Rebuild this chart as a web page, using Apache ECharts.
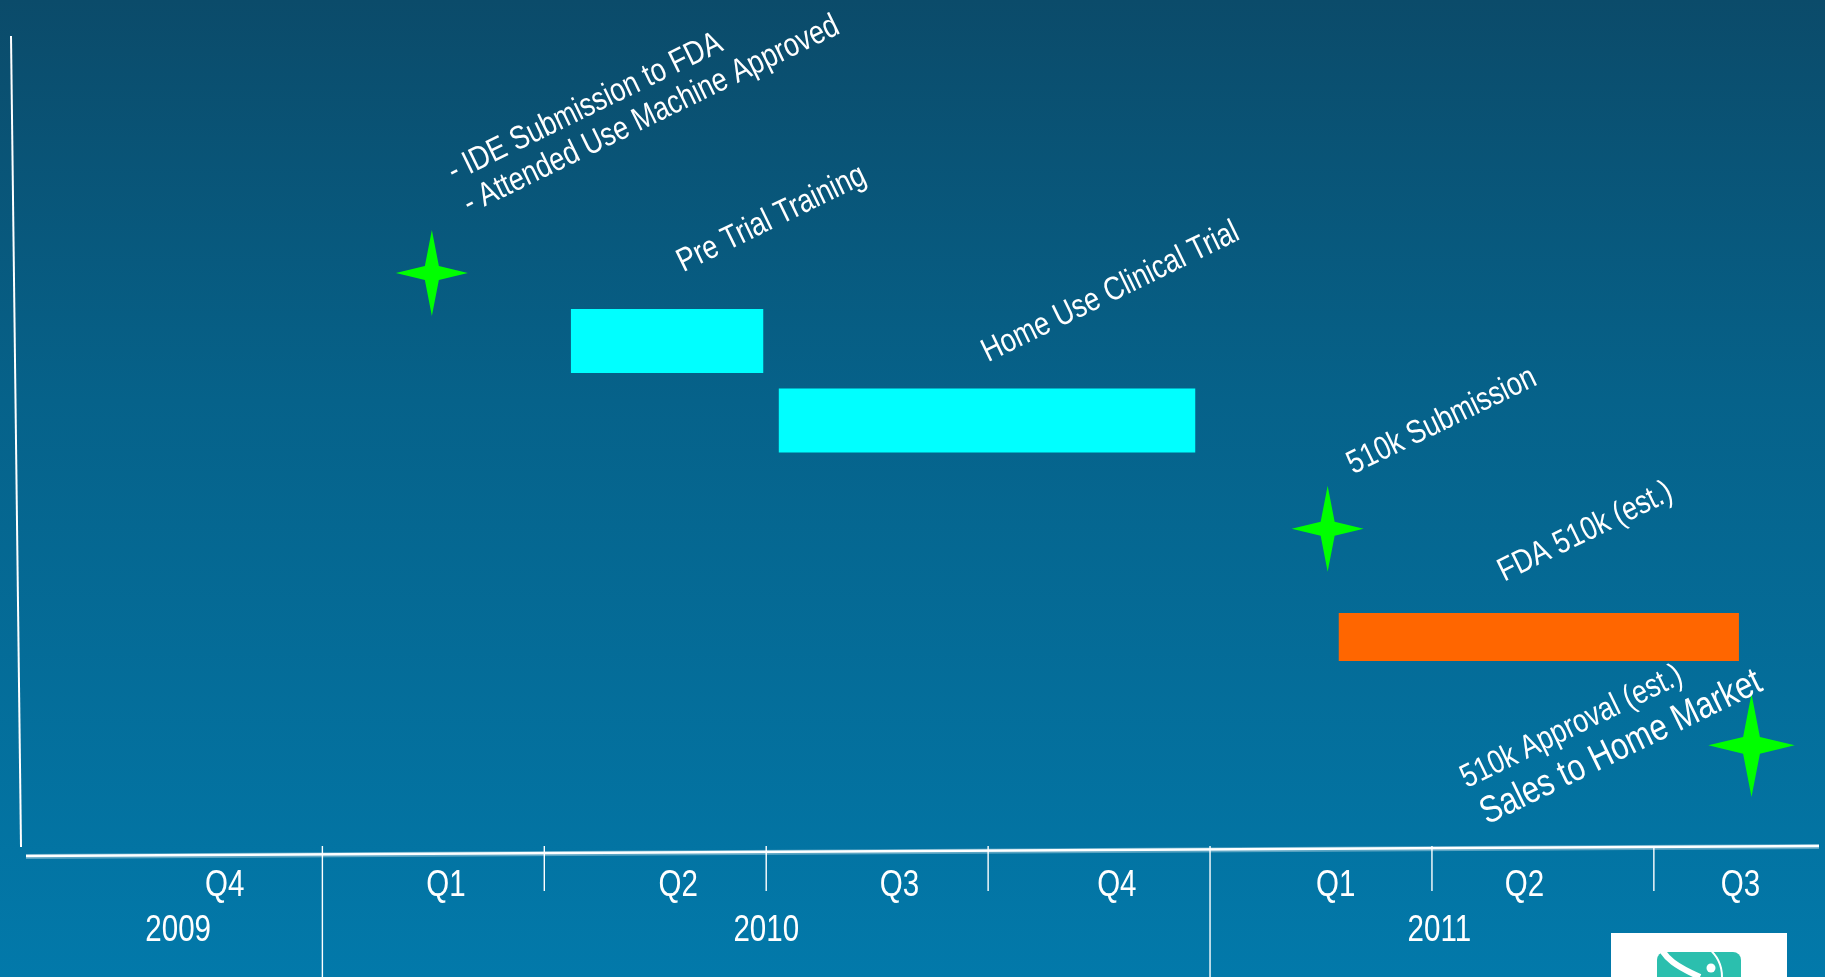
<!DOCTYPE html>
<html><head><meta charset="utf-8">
<script src="https://cdn.jsdelivr.net/npm/echarts@6/dist/echarts.min.js"></script>
<style>html,body{margin:0;padding:0;width:1825px;height:977px;overflow:hidden;background:#06628a}#c{width:1825px;height:977px}</style>
</head><body><div id="c"></div>
<script>
// ---- data (x = months counted from 1 Oct 2009, start of Q4 2009; y = row height 0..100) ----
const quarterLabels = ['Q4', 'Q1', 'Q2', 'Q3', 'Q4', 'Q1', 'Q2', 'Q3'];
const quarterLabelMonths = [1.68, 4.67, 7.81, 10.8, 13.74, 16.7, 19.25, 22.17];
const quarterTickMonths = [3, 6, 9, 12, 15, 18, 21];
const yearTickMonths = [3, 15];
const yearLabels = ['2009', '2010', '2011'];
const yearLabelMonths = [1.05, 9.0, 18.1];

const taskNames = ['Pre Trial Training', 'Home Use Clinical Trial', 'FDA 510k (est.)'];
const taskStart = [6.36, 9.17, 16.74];
const taskEnd = [8.96, 14.80, 22.15];
const taskRow = [62.8, 53.1, 26.7];

const milestoneNames = [
  ['- IDE Submission to FDA', '- Attended Use Machine Approved'],
  ['510k Submission'],
  ['510k Approval (est.)', 'Sales to Home Market']
];
const milestoneMonth = [4.48, 16.59, 22.32];
const milestoneRow = [71.1, 39.9, 13.5];

// ---- styles (kept apart from the data) ----
const taskStyle = [
  { color: '#00FFFF', height: 64, label: [{ dx: 104.5, dy: -122, size: 33 }] },
  { color: '#00FFFF', height: 64, label: [{ dx: 123.6, dy: -128.3, size: 33 }] },
  { color: '#FF6600', height: 48, label: [{ dx: 46.5, dy: -105.1, size: 33 }] }
];
const milestoneStyle = [
  { scale: 1, label: [{ dx: 153.4, dy: -165.4, size: 33 }, { dx: 219.5, dy: -157.9, size: 33 }] },
  { scale: 1, label: [{ dx: 114.3, dy: -107.7, size: 33 }] },
  { scale: 1.2, label: [{ dx: -179.8, dy: -18.3, size: 33 }, { dx: -130.3, dy: 2.5, size: 38 }] }
];
const axisText = { quarterDy: 30.5, yearDy: 75.5, size: 36 };

function hasFont(f) {
  const c = document.createElement('canvas').getContext('2d');
  const s = 'Home Use Clinical Trial 2009 Q4';
  c.font = '72px monospace'; const a = c.measureText(s).width;
  c.font = '72px "' + f + '", monospace'; const b = c.measureText(s).width;
  return Math.abs(a - b) > 0.5;
}
const NARROW = hasFont('Liberation Sans Narrow');
const FAM = NARROW ? '"Liberation Sans Narrow"' : '"Liberation Sans", Arial, sans-serif';
const SX = NARROW ? 1 : 0.82;
const ROT = 26 * Math.PI / 180;

function textEl(text, x, y, size, rot) {
  return {
    type: 'text', x: x, y: y, rotation: rot, scaleX: SX,
    style: { text: text, fill: '#ffffff', fontSize: size, fontFamily: FAM, align: 'center', verticalAlign: 'middle' }
  };
}

const STAR = [[0, -43], [7, -7], [36, 0], [7, 7], [0, 43], [-7, 7], [-36, 0], [-7, -7]];

// one row per axis text: [month, kind (0 = quarter, 1 = year), index]
const axisTextRows = quarterLabelMonths.map((m, i) => [m, 0, i])
  .concat(yearLabelMonths.map((m, i) => [m, 1, i]));

const chart = echarts.init(document.getElementById('c'), null, { renderer: 'canvas' });
chart.setOption({
  animation: false,
  backgroundColor: {
    type: 'linear', x: 0, y: 0, x2: 0, y2: 1,
    colorStops: [
      { offset: 0, color: '#0b4b6a' },
      { offset: 0.41, color: '#06628a' },
      { offset: 1, color: '#0279aa' }
    ]
  },
  grid: { left: 26.5, right: 4.7, top: 36, bottom: 121 },
  xAxis: { type: 'value', min: -1, max: 23.25, show: false },
  yAxis: { type: 'value', min: 0, max: 100, show: false },
  series: [
    {
      name: 'ticks', type: 'custom', clip: false, silent: true,
      data: quarterTickMonths.map(m => [m, 0]),
      renderItem: function (params, api) {
        const p = api.coord([api.value(0), 0]);
        const long = yearTickMonths.indexOf(api.value(0)) >= 0;
        return {
          type: 'line',
          shape: { x1: p[0], y1: p[1] - 10, x2: p[0], y2: long ? 977 : p[1] + 35 },
          style: { stroke: '#ffffff', lineWidth: 1.4 }
        };
      }
    },
    {
      name: 'axisText', type: 'custom', clip: false, silent: true,
      dimensions: ['m', 'kind', 'idx'],
      encode: { x: 0 },
      data: axisTextRows,
      renderItem: function (params, api) {
        const row = axisTextRows[params.dataIndex];
        const p = api.coord([row[0], 0]);
        const isYear = row[1] === 1;
        const txt = isYear ? yearLabels[row[2]] : quarterLabels[row[2]];
        const dy = isYear ? axisText.yearDy : axisText.quarterDy;
        return textEl(txt, p[0], p[1] + dy, axisText.size, 0);
      }
    },
    {
      name: 'tasks', type: 'custom', clip: false,
      data: taskNames.map((n, i) => [taskStart[i], taskEnd[i], taskRow[i]]),
      renderItem: function (params, api) {
        const i = params.dataIndex;
        const st = taskStyle[i];
        const p0 = api.coord([api.value(0), api.value(2)]);
        const p1 = api.coord([api.value(1), api.value(2)]);
        const cx = (p0[0] + p1[0]) / 2;
        const children = [{
          type: 'rect',
          shape: { x: p0[0], y: p0[1] - st.height / 2, width: p1[0] - p0[0], height: st.height },
          style: { fill: st.color }
        }];
        st.label.forEach(l => children.push(textEl(taskNames[i], cx + l.dx, p0[1] + l.dy, l.size, ROT)));
        return { type: 'group', children: children };
      }
    },
    {
      name: 'milestones', type: 'custom', clip: false,
      data: milestoneMonth.map((m, i) => [m, milestoneRow[i]]),
      renderItem: function (params, api) {
        const i = params.dataIndex;
        const st = milestoneStyle[i];
        const c = api.coord([api.value(0), api.value(1)]);
        const pts = STAR.map(q => [c[0] + q[0] * st.scale, c[1] + q[1] * st.scale]);
        const children = [{ type: 'polygon', shape: { points: pts }, style: { fill: '#00FF00' } }];
        st.label.forEach((l, k) => children.push(textEl(milestoneNames[i][k], c[0] + l.dx, c[1] + l.dy, l.size, ROT)));
        return { type: 'group', children: children };
      }
    }
  ],
  graphic: [
    { type: 'line', silent: true, shape: { x1: 26, y1: 856.5, x2: 1819, y2: 846.5 }, style: { stroke: 'rgba(255,255,255,0.35)', lineWidth: 5 } },
    { type: 'line', silent: true, shape: { x1: 26, y1: 856, x2: 1819, y2: 846 }, style: { stroke: '#ffffff', lineWidth: 2.5 } },
    { type: 'line', silent: true, shape: { x1: 11, y1: 36, x2: 21, y2: 847 }, style: { stroke: '#ffffff', lineWidth: 2 } },
    { type: 'rect', silent: true, shape: { x: 1611, y: 933, width: 176, height: 44 }, style: { fill: '#ffffff' } },
    { type: 'rect', silent: true, shape: { x: 1657, y: 952, width: 84, height: 40, r: 8 }, style: { fill: '#2bbfae' } },
    { type: 'bezierCurve', silent: true, shape: { x1: 1660, y1: 942, cpx1: 1661, cpy1: 958, cpx2: 1680, cpy2: 968, x2: 1700, y2: 977 }, style: { stroke: '#ffffff', lineWidth: 6, fill: null } },
    { type: 'bezierCurve', silent: true, shape: { x1: 1708, y1: 948, cpx1: 1718, cpy1: 956, cpx2: 1722, cpy2: 966, x2: 1722, y2: 977 }, style: { stroke: '#ffffff', lineWidth: 2, fill: null } },
    { type: 'circle', silent: true, shape: { cx: 1711, cy: 968, r: 4.5 }, style: { fill: '#ffffff' } }
  ]
});
</script>
</body></html>
